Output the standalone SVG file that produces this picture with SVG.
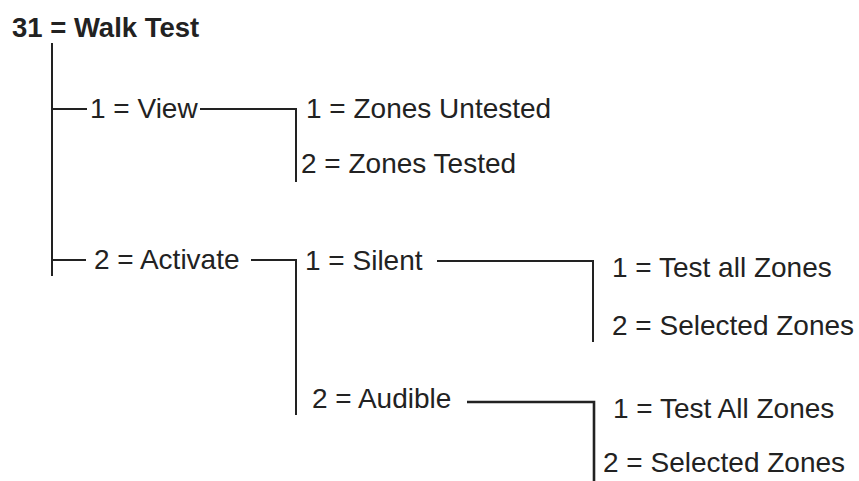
<svg xmlns="http://www.w3.org/2000/svg" width="859" height="481" viewBox="0 0 859 481">
<style>
  text { font-family: "Liberation Sans", Arial, sans-serif; font-size: 28px; fill: #222; }
  .title { font-weight: bold; font-size: 27.5px; }
  .conn line, .conn polyline { stroke: #222; stroke-width: 2; fill: none; }
  .conn .thick { stroke-width: 2.6; }
</style>
<rect width="859" height="481" fill="#fff"/>
<g id="connectors" class="conn">
  <line x1="52" y1="43" x2="52" y2="276"/>
  <line x1="52" y1="109" x2="87" y2="109"/>
  <polyline points="200,109 296,109 296,182"/>
  <line x1="52" y1="260" x2="86" y2="260"/>
  <polyline points="251,260 296,260 296,415"/>
  <polyline points="437,261 593,261 593,342"/>
  <polyline class="thick" points="467,402 594,402 594,481"/>
</g>
<g id="n-walktest"><text class="title" x="12" y="37">31 = Walk Test</text></g>
<g id="n-view"><text x="90" y="118">1 = View</text></g>
<g id="n-untested"><text x="306" y="118">1 = Zones Untested</text></g>
<g id="n-tested"><text x="301" y="173">2 = Zones Tested</text></g>
<g id="n-activate"><text x="94" y="269">2 = Activate</text></g>
<g id="n-silent"><text x="305" y="270">1 = Silent</text></g>
<g id="n-silent-all"><text x="612" y="277">1 = Test all Zones</text></g>
<g id="n-silent-sel"><text x="612" y="335">2 = Selected Zones</text></g>
<g id="n-audible"><text x="312" y="408">2 = Audible</text></g>
<g id="n-audible-all"><text x="613" y="418">1 = Test All Zones</text></g>
<g id="n-audible-sel"><text x="603" y="472">2 = Selected Zones</text></g>
</svg>
